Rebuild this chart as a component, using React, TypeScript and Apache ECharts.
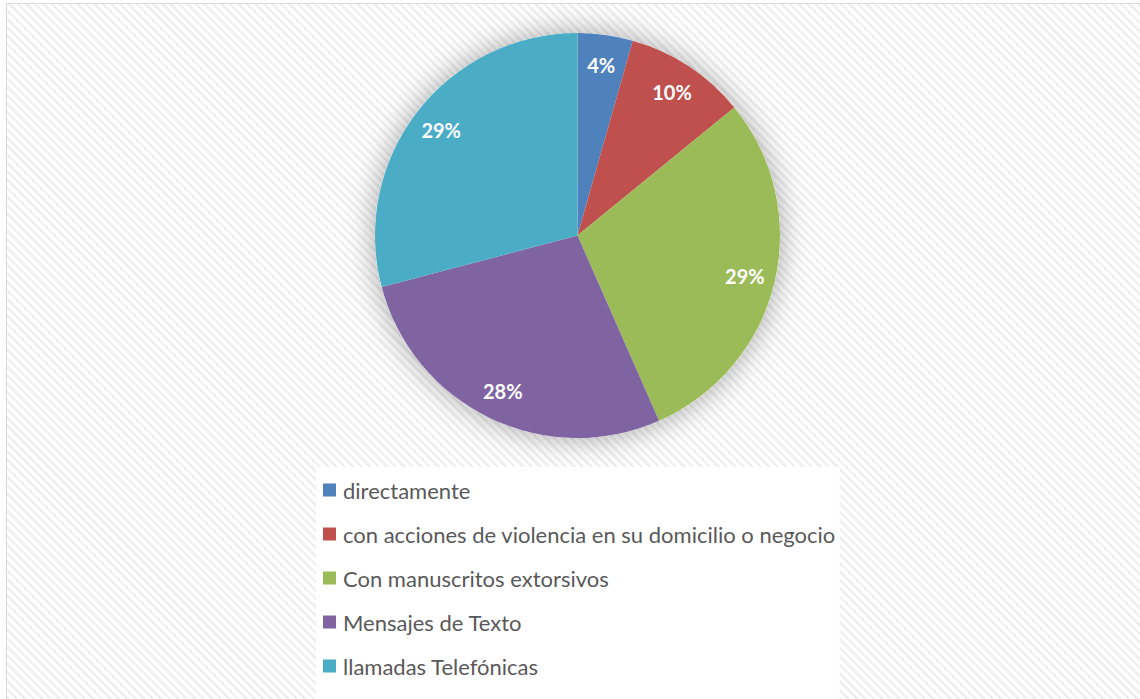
import React, { useEffect, useRef } from "react";
import * as echarts from "echarts";

const categories = [
  "directamente",
  "con acciones de violencia en su domicilio o negocio",
  "Con manuscritos extorsivos",
  "Mensajes de Texto",
  "llamadas Telefónicas",
];
const values = [4.4, 9.7, 29.3, 27.5, 29.1];
const colors = ["#4F81BD", "#C0504D", "#9BBB59", "#8064A2", "#4BACC6"];

const CX = 577.5;
const CY = 235.5;
const R = 202.5;

export default function App() {
  const ref = useRef<HTMLDivElement>(null);
  useEffect(() => {
    document.body.style.margin = "0";
    const chart = echarts.init(ref.current!, null, { renderer: "svg" });
    const mainData = categories.map((name, i) => ({
      name,
      value: values[i],
      itemStyle: { color: colors[i] },
    }));
    const labelData = categories.map((name, i) => ({
      name,
      value: values[i],
      itemStyle: { color: "rgba(0,0,0,0)" },
    }));
    chart.setOption({
      animation: false,
      backgroundColor: "transparent",
      legend: {
        orient: "vertical",
        left: 316,
        top: 467,
        height: 320,
        data: categories,
        backgroundColor: "#ffffff",
        padding: [10, 4, 40, 7],
        itemWidth: 13,
        itemHeight: 13,
        itemGap: 18,
        icon: "rect",
        selectedMode: false,
        textStyle: {
          color: "#595959",
          fontSize: 22,
          fontFamily: "Lato",
          lineHeight: 26,
          padding: [0, 0, 0, 2],
        },
      },
      series: [
        {
          type: "pie",
          name: "main",
          z: 2,
          center: [CX, CY],
          radius: [0, R],
          startAngle: 90,
          clockwise: true,
          avoidLabelOverlap: false,
          label: { show: false },
          labelLine: { show: false },
          emphasis: { disabled: true },
          itemStyle: { borderWidth: 0 },
          data: mainData,
        },
        {
          type: "pie",
          name: "shadow",
          z: 1,
          silent: true,
          center: [CX, CY],
          radius: [0, R],
          label: { show: false },
          labelLine: { show: false },
          emphasis: { disabled: true },
          itemStyle: {
            color: "#ffffff",
            shadowBlur: 30,
            shadowColor: "rgba(0,0,0,0.35)",
            shadowOffsetX: 0,
            shadowOffsetY: 0,
          },
          data: [{ name: "", value: 1 }],
        },
        {
          type: "pie",
          name: "labels",
          z: 3,
          silent: true,
          center: [CX, CY],
          radius: [R * 0.67, R],
          startAngle: 90,
          clockwise: true,
          avoidLabelOverlap: false,
          emphasis: { disabled: true },
          labelLine: { show: false },
          label: {
            show: true,
            position: "inside",
            color: "#ffffff",
            fontSize: 20,
            fontWeight: "bold",
            fontFamily: "Lato",
            formatter: (p: any) => Math.round(p.percent) + "%",
          },
          data: labelData,
        },
      ],
    });
    return () => chart.dispose();
  }, []);
  return (
    <div style={{ position: "relative", width: 1140, height: 699, overflow: "hidden" }}>
      <div
        style={{
          position: "absolute",
          left: 6,
          top: 3,
          width: 1140,
          height: 700,
          border: "1px solid #d9d9d9",
          background:
            "repeating-linear-gradient(45deg, #ffffff 0px, #ffffff 3.5px, #efefef 3.5px, #efefef 6px)",
        }}
      />
      <div ref={ref} style={{ position: "absolute", left: 0, top: 0, width: 1140, height: 699 }} />
    </div>
  );
}
